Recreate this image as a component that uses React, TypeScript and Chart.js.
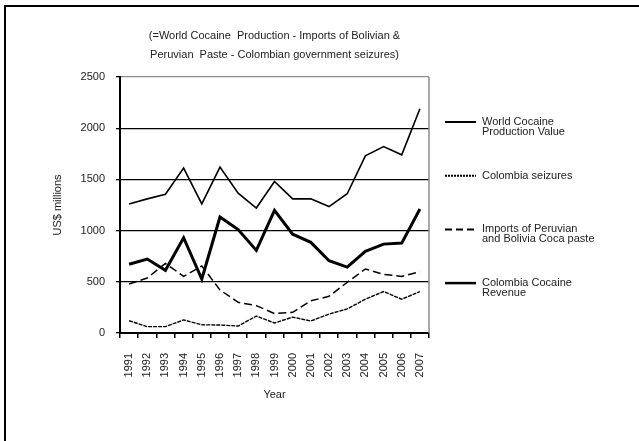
import React, { useEffect, useRef } from "react";
import { Chart, registerables } from "chart.js";

Chart.register(...registerables);

const years = ["1991", "1992", "1993", "1994", "1995", "1996", "1997", "1998", "1999", "2000", "2001", "2002", "2003", "2004", "2005", "2006", "2007"];

const worldProduction = [1260, 1310, 1355, 1610, 1260, 1620, 1365, 1220, 1480, 1310, 1310, 1235, 1360, 1730, 1820, 1740, 2190];
const colombiaSeizures = [120, 62, 62, 128, 80, 78, 68, 165, 98, 155, 117, 185, 235, 330, 405, 330, 405];
const importsPaste = [478, 537, 680, 553, 655, 420, 300, 267, 190, 202, 315, 358, 495, 625, 573, 553, 599];
const colombiaRevenue = [672, 722, 612, 930, 527, 1133, 1010, 807, 1198, 965, 885, 706, 644, 797, 868, 878, 1211];

const titleLines = [
  "(=World Cocaine  Production - Imports of Bolivian &",
  "Peruvian  Paste - Colombian government seizures)",
];
const yAxisTitle = "US$ millions";
const xAxisTitle = "Year";

const legendWorld = ["World Cocaine", "Production Value"];
const legendSeizures = ["Colombia seizures"];
const legendImports = ["Imports of Peruvian", "and Bolivia Coca paste"];
const legendRevenue = ["Colombia Cocaine", "Revenue"];

const yTicks = [0, 500, 1000, 1500, 2000, 2500];

const FONT = '"Liberation Sans", Arial, sans-serif';
const TEXT = "#222";

export default function App() {
  const ref = useRef<HTMLCanvasElement | null>(null);

  useEffect(() => {
    document.body.style.margin = "0";
    const canvas = ref.current;
    if (!canvas) return;

    const legendItems = [
      { lines: legendWorld, width: 2, dash: [] as number[] },
      { lines: legendSeizures, width: 2, dash: [2, 1] },
      { lines: legendImports, width: 2, dash: [7, 4] },
      { lines: legendRevenue, width: 2.5, dash: [] as number[] },
    ];

    const decor = {
      id: "decor",
      afterDraw(chart: any) {
        const { ctx, chartArea } = chart;
        ctx.save();
        ctx.strokeStyle = "#000";
        ctx.lineWidth = 2;
        ctx.beginPath();
        ctx.moveTo(5, 441);
        ctx.lineTo(5, 6);
        ctx.lineTo(639, 6);
        ctx.stroke();
        ctx.strokeStyle = "#8c8c8c";
        ctx.lineWidth = 1.5;
        ctx.beginPath();
        ctx.moveTo(chartArea.right, chartArea.top);
        ctx.lineTo(chartArea.right, chartArea.bottom);
        ctx.stroke();
        const x0 = chartArea.right + 16;
        const x1 = chartArea.right + 47;
        const tx = chartArea.right + 53;
        ctx.font = "11px " + FONT;
        ctx.textBaseline = "middle";
        ctx.textAlign = "left";
        legendItems.forEach((it, i) => {
          const y = chartArea.top + 45 + i * 53.7;
          ctx.strokeStyle = "#000";
          ctx.lineWidth = it.width;
          ctx.setLineDash(it.dash);
          ctx.beginPath();
          ctx.moveTo(x0, y);
          ctx.lineTo(x1, y);
          ctx.stroke();
          ctx.setLineDash([]);
          ctx.fillStyle = TEXT;
          it.lines.forEach((ln, j) => ctx.fillText(ln, tx, y + j * 10));
        });
        ctx.restore();
      },
    };

    const chart = new Chart(canvas, {
      type: "line",
      data: {
        labels: years,
        datasets: [
          { label: "World Cocaine Production Value", data: worldProduction, borderColor: "#000", borderWidth: 1.6 },
          { label: "Colombia seizures", data: colombiaSeizures, borderColor: "#000", borderWidth: 1.4, borderDash: [4, 1] },
          { label: "Imports of Peruvian and Bolivia Coca paste", data: importsPaste, borderColor: "#000", borderWidth: 1.5, borderDash: [8, 4] },
          { label: "Colombia Cocaine Revenue", data: colombiaRevenue, borderColor: "#000", borderWidth: 3 },
        ],
      },
      options: {
        animation: false,
        responsive: false,
        devicePixelRatio: 1,
        elements: { point: { radius: 0 }, line: { tension: 0, fill: false } },
        layout: { padding: { top: 0, right: 210, bottom: 28, left: 0 } },
        plugins: {
          legend: { display: false },
          tooltip: { enabled: false },
          title: {
            display: true,
            text: titleLines,
            fullSize: false,
            color: TEXT,
            font: { family: FONT, size: 11, weight: "normal", lineHeight: 19 / 11 },
            padding: { top: 26.5, bottom: 12.5 },
          },
        },
        scales: {
          x: {
            type: "category",
            offset: true,
            afterFit: (s: any) => { s.height = 80; },
            grid: { offset: true, drawOnChartArea: false, drawTicks: true, tickLength: 5, color: "#000", lineWidth: 1.5 },
            border: { display: true, color: "#000", width: 2 },
            ticks: { color: TEXT, font: { family: FONT, size: 11 }, minRotation: 90, maxRotation: 90, autoSkip: false, padding: 15 },
            title: { display: true, text: xAxisTitle, color: TEXT, font: { family: FONT, size: 11 }, padding: { top: 0, bottom: 11.4 } },
          },
          y: {
            min: 0,
            max: 2500,
            afterFit: (s: any) => { s.width = 120; },
            afterBuildTicks: (s: any) => { s.ticks = yTicks.map((v) => ({ value: v })); },
            grid: {
              color: (c: any) => (c.tick && c.tick.value === 2500 ? "#8c8c8c" : "#000"),
              lineWidth: 1.3,
              drawTicks: true,
              tickLength: 4,
              tickColor: "#000",
            },
            border: { display: true, color: "#000", width: 2 },
            ticks: { color: TEXT, font: { family: FONT, size: 11 }, padding: 11, callback: (v: any) => String(v) },
            title: { display: true, text: yAxisTitle, color: TEXT, font: { family: FONT, size: 11 }, padding: { top: 51.4, bottom: 0 } },
          },
        },
      },
      plugins: [decor],
    } as any);

    return () => chart.destroy();
  }, []);

  return (
    <div style={{ width: 639, height: 441, overflow: "hidden", background: "#fff" }}>
      <canvas ref={ref} width={639} height={441} style={{ display: "block" }} />
    </div>
  );
}
